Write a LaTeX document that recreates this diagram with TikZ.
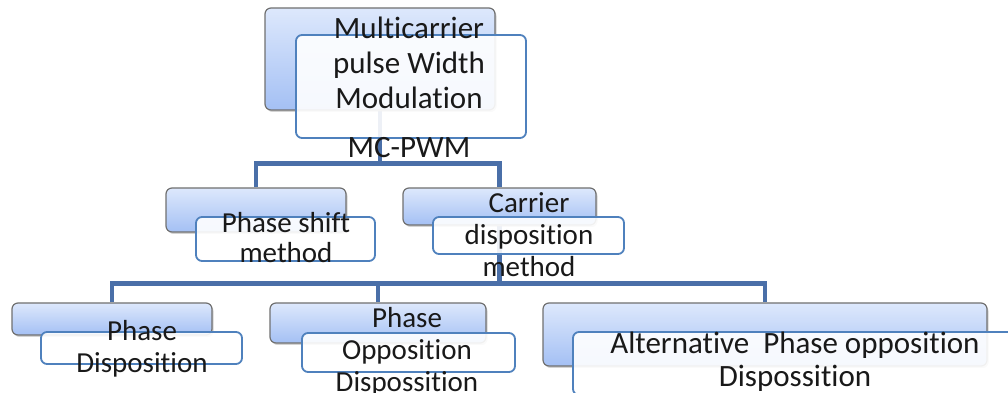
\documentclass[tikz,border=0pt]{standalone}
\usepackage{fontspec}
\setmainfont{Carlito}[Ligatures=NoCommon]
\usetikzlibrary{shadows}
\pgfdeclarelayer{bg}
\pgfsetlayers{bg,main}
\definecolor{connc}{HTML}{4A6FA8}
\definecolor{wborder}{HTML}{4F81BD}
\definecolor{bborder}{HTML}{707070}
\definecolor{btop}{HTML}{DDE8FC}
\definecolor{bbot}{HTML}{A4C0F4}
\begin{document}
\begin{tikzpicture}[x=1pt,y=1pt,
 backbox/.style={draw=bborder,line width=1.2pt,rounded corners=6pt,top color=btop,bottom color=bbot,inner sep=0pt,drop shadow={shadow xshift=1.5pt,shadow yshift=-2pt,opacity=0.35}},
 frontbox/.style={draw=wborder,line width=1.8pt,rounded corners=6pt,fill=white,fill opacity=0.9,inner sep=0pt},
 lbl/.style={align=center,text=black!90,inner sep=0pt},
 connector/.style={draw=connc,line width=4.5pt}]
\useasboundingbox (0,0) rectangle (1008,393);
% level 0
\node[backbox,minimum width=230pt,minimum height=102pt] (b0) at (380,334) {};
\node[frontbox,minimum width=230pt,minimum height=103pt] (w0) at (411,306.5) {};
\node[lbl,font=\fontsize{31}{35}\selectfont] (t0) at (409,305.5) {Multicarrier\\pulse Width\\Modulation\\[14pt]MC-PWM};
% level 1
\node[backbox,minimum width=180pt,minimum height=44pt] (b1) at (256,183) {};
\node[frontbox,minimum width=179pt,minimum height=44pt] (w1) at (285.5,154) {};
\node[lbl,font=\fontsize{29}{30}\selectfont] (t1) at (286,155.5) {Phase shift\\method};
\node[backbox,minimum width=193pt,minimum height=37pt] (b2) at (499.5,186.5) {};
\node[frontbox,minimum width=191pt,minimum height=37pt] (w2) at (528.5,157.5) {};
\node[lbl,font=\fontsize{29}{32}\selectfont] (t2) at (529,158) {Carrier\\disposition\\method};
% level 2
\node[backbox,minimum width=200pt,minimum height=32pt] (b3) at (112,74) {};
\node[frontbox,minimum width=201pt,minimum height=32pt] (w3) at (141.5,45) {};
\node[lbl,font=\fontsize{29}{32}\selectfont] (t3) at (142,44) {Phase\\Disposition};
\node[backbox,minimum width=216pt,minimum height=40pt] (b4) at (378,70) {};
\node[frontbox,minimum width=213pt,minimum height=39pt] (w4) at (408.5,40.5) {};
\node[lbl,font=\fontsize{29}{32}\selectfont] (t4) at (407,41) {Phase\\Opposition\\Dispossition};
\node[backbox,minimum width=444pt,minimum height=63pt] (b5) at (765,58.5) {};
\node[frontbox,minimum width=444pt,minimum height=63pt] (w5) at (795,29.5) {};
\node[lbl,font=\fontsize{31}{33}\selectfont] (t5) at (795,31.5) {Alternative\ \ Phase opposition\\Dispossition};
% connectors
\begin{pgfonlayer}{bg}
\draw[connector] (b0.south) -- ++(0,-53) coordinate (j1);
\draw[connector] (b1.north) |- (j1) -| (b2.north);
\draw[connector] (b2.south) -- ++(0,-58) coordinate (j2);
\draw[connector] (b3.north) |- (j2) -| (b5.north);
\draw[connector] (b4.north) -- (b4.north |- j2);
\end{pgfonlayer}
\end{tikzpicture}
\end{document}
